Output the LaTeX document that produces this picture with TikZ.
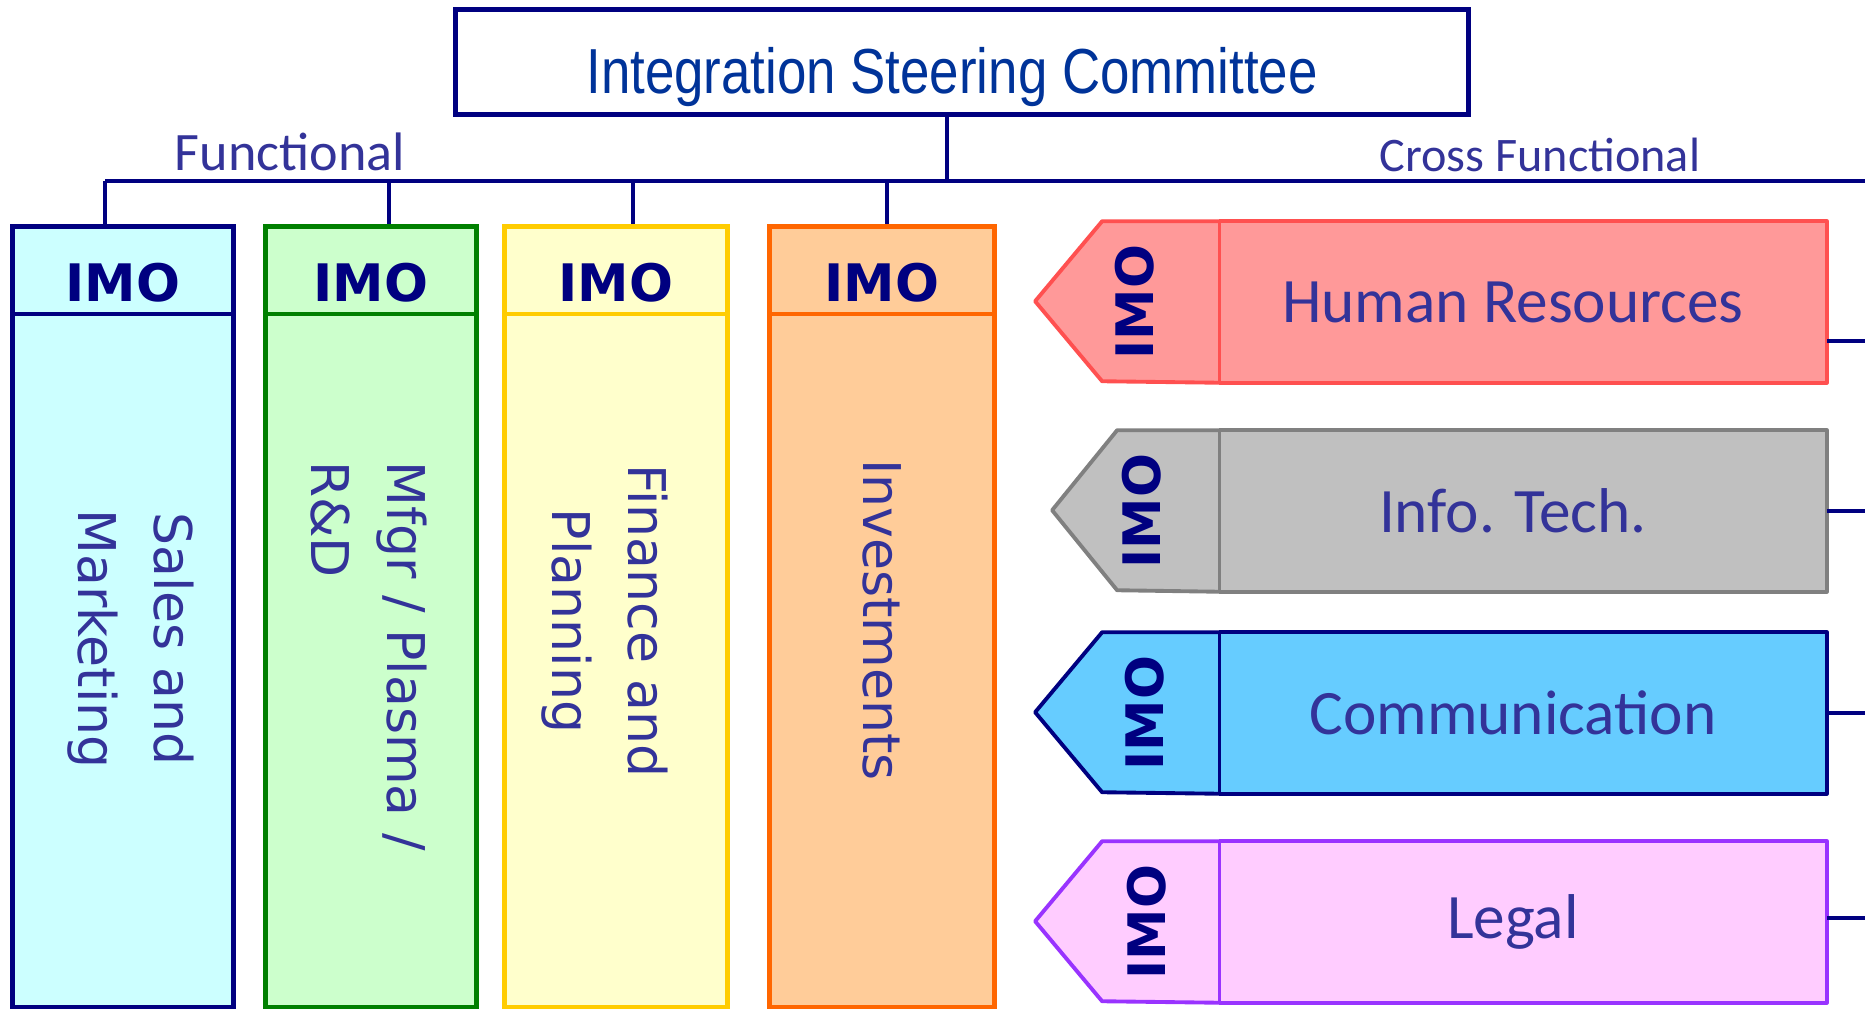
\documentclass[tikz,border=0pt]{standalone}
\usepackage{fontspec}
\usepackage{tikz}
\setmainfont{Carlito}
\newfontfamily\narrowfont[FakeStretch=0.83]{Liberation Sans}
\newfontfamily\verdfont{DejaVu Sans}

\definecolor{navy}{HTML}{000080}
\definecolor{txtblue}{HTML}{333399}
\definecolor{iscblue}{HTML}{003399}
\definecolor{smfill}{HTML}{CCFFFF}\definecolor{smline}{HTML}{000080}
\definecolor{mffill}{HTML}{CCFFCC}\definecolor{mfline}{HTML}{008000}
\definecolor{fpfill}{HTML}{FFFFCC}\definecolor{fpline}{HTML}{FFCC00}
\definecolor{invfill}{HTML}{FFCC99}\definecolor{invline}{HTML}{FF6600}
\definecolor{hrfill}{HTML}{FF9999}\definecolor{hrline}{HTML}{FF5050}
\definecolor{itfill}{HTML}{C0C0C0}\definecolor{itline}{HTML}{808080}
\definecolor{comfill}{HTML}{66CCFF}\definecolor{comline}{HTML}{000080}
\definecolor{legfill}{HTML}{FFCCFF}\definecolor{legline}{HTML}{9933FF}

\begin{document}
\begin{tikzpicture}[x=0.01cm, y=-0.01cm,
    bus/.style={navy, line width=1.35pt},
    col/.style={draw, line width=1.4pt, minimum height=7.81cm, anchor=north, inner sep=0pt},
    imo/.style={text=navy, inner sep=0pt, font=\verdfont\bfseries\fontsize{14.7}{18}\selectfont},
    vlab/.style={rotate=-90, align=center, text=txtblue, inner sep=0pt,
      font=\verdfont\fontsize{14.8}{21.6}\selectfont},
    xbox/.style={minimum width=6.06cm, minimum height=1.6cm, inner sep=0pt, text=txtblue,
      font=\fontsize{18}{21}\selectfont}
    ]
    \useasboundingbox (0,0) rectangle (1865,1009);

    % steering committee and the bus
    \node[draw=navy, line width=1.4pt, minimum width=10.13cm, minimum height=1.045cm,
      text height=6.2mm, text depth=0pt, inner sep=0pt, text=iscblue,
      font=\narrowfont\fontsize{18.1}{21}\selectfont] (isc) at (962,62) {Integration Steering Committee\hspace*{2mm}};
    \coordinate (redge) at (1865,181);
    \node[anchor=base, text=txtblue, font=\fontsize{15.4}{18}\selectfont] (func) at (290,170) {Functional};
    \node[anchor=base, text=txtblue, font=\fontsize{13.7}{16}\selectfont] (xfunc) at (1540,172) {Cross Functional};

    % functional columns
    \foreach \n/\x/\w/\cl/\bx in {sm/123/2.2cm/sm/105, mf/371/2.1cm/mf/389,
        fp/616/2.22cm/fp/633, inv/882/2.24cm/inv/887}{
      \node[col, minimum width=\w, draw=\cl line, fill=\cl fill] (\n) at (\x,224) {};
      \draw[\cl line, line width=1pt] ([yshift=-9mm]\n.north west) -- ([yshift=-9mm]\n.north east);
      \node[imo, anchor=base] (\n imo) at ([yshift=-7.7mm]\n.north) {IMO};
      \coordinate (b\n) at (\bx,181);
      \draw[bus] (b\n) -- (b\n |- \n.north);
    }
    \draw[bus] (bsm) -- (redge);
    \draw[bus] ([xshift=-1.5mm]isc.south) -- ([xshift=-1.5mm]isc.south |- redge);

    \node[vlab] (smlab) at (131,639) {Sales and\\Marketing};
    \node[vlab, align=left] (mflab) at (369,656) {Mfgr / Plasma /\\R\&D};
    \node[vlab] (fplab) at (605,621) {Finance and\\Planning};
    \node[vlab] (invlab) at (882,620) {Investments};

    % cross functional tags
    \foreach \n/\txt/\cl/\y/\a/\b/\dx/\s in {hr/Human Resources/hr/302/117/67/8.4mm/-3.9mm,
        it/Info. Tech./it/511/102/65/7.7mm/0mm, com/Communication/com/713/117/67/7.4mm/0mm,
        leg/Legal/leg/922/117/67/7.2mm/0.4mm}{
      \node[xbox, fill=\cl fill] (\n) at (1523,\y) {\txt\hspace*{2mm}};
      \draw[\cl line, line width=1.1pt, fill=\cl fill, line join=round]
        (\n.north west) -- ++(-\a,0) -- ++(-\b,80) -- ++(\b,80) -- (\n.south west);
      \draw[\cl line, line width=1.1pt, line join=round]
        (\n.south west) -- (\n.south east) -- (\n.north east) -- (\n.north west);
      \draw[\cl line, line width=0.8pt] (\n.north west) -- (\n.south west);
      \node[imo, rotate=90] (\n imo) at ([xshift=-\dx]\n.west) {IMO};
      \draw[bus] ([yshift=\s]\n.east) -- ++(45,0);
    }
  \end{tikzpicture}
\end{document}
